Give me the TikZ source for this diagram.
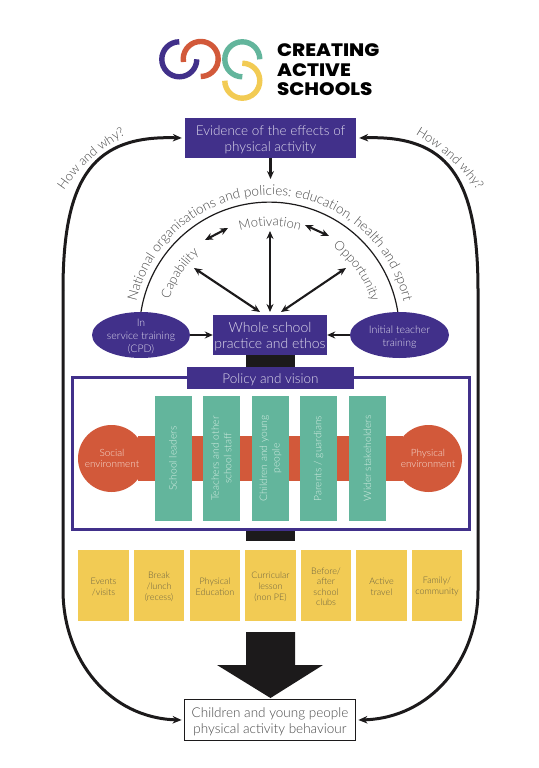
\documentclass[tikz,border=0pt]{standalone}
\usepackage{fontspec}
\setmainfont{Lato}[UprightFont=* Light,BoldFont=* Bold]
\newfontfamily\logofont{Poppins}[UprightFont=* ExtraBold,FakeStretch=1.1]
\usetikzlibrary{arrows.meta,calc,decorations.text,shapes.geometric}
\definecolor{cpurple}{HTML}{41308A}
\definecolor{cgreen}{HTML}{63B59C}
\definecolor{cred}{HTML}{D2593A}
\definecolor{cyellow}{HTML}{F2CB54}
\definecolor{cink}{HTML}{1C1A1B}
\definecolor{cgrey}{HTML}{4A4A4A}
\definecolor{conpurple}{HTML}{DDD9EC}
\definecolor{congreen}{HTML}{D5EDE3}
\definecolor{conred}{HTML}{F6DDD3}
\definecolor{conyellow}{HTML}{6A6242}
\newcommand{\lsz}[2]{\fontsize{#1}{#2}\selectfont}
\newcommand{\dn}[1]{\rule{0pt}{#1pt}}
\tikzset{
  x=1pt,y=1pt,
  purplebox/.style={fill=cpurple,draw=none,inner sep=0pt,align=center,text=conpurple},
  greenbox/.style={fill=cgreen,draw=none,inner sep=0pt,align=center,text=congreen,rotate=90,minimum width=125pt,minimum height=37pt,font=\lsz{10.3}{12.5}},
  yellowbox/.style={fill=cyellow,draw=none,inner sep=0pt,align=center,text=conyellow,minimum width=50.5pt,minimum height=71pt,font=\lsz{9}{10.6}},
  stem/.style={fill=cink,draw=none,inner sep=0pt,minimum width=49pt},
  redround/.style={circle,fill=cred,draw=none,inner sep=0pt,minimum size=67pt},
  logoline/.style={anchor=base west,inner sep=0pt,font={\logofont\fontsize{18}{20}\selectfont}},
  sidearrow/.style={draw=cink,line width=2.2pt,-{Stealth[length=8pt,width=7pt]}},
  twoway/.style={draw=cink,line width=2.1pt,{Stealth[length=8pt,width=7pt]}-{Stealth[length=8pt,width=7pt]}},
  bigloop/.style={draw=cink,line width=3pt,-{Stealth[length=9pt,width=7.5pt]}},
  logoarc/.style={line width=5.4pt,line cap=butt},
  curvetext/.style={decorate,decoration={text along path,text align=center,text={#1}}},
}
\begin{document}
\begin{tikzpicture}
\useasboundingbox (0,0) rectangle (538,-768);

% logo
\draw[logoarc,cpurple] (179.3,-41.8) arc[start angle=90,end angle=360,radius=17.5];
\draw[logoarc,cred] (183.5,-62) arc[start angle=190,end angle=-90,radius=17.5];
\draw[logoarc,cgreen] (259.8,-59.3) arc[start angle=0,end angle=270,radius=17.5];
\draw[logoarc,cyellow] (242.3,-63.2) arc[start angle=90,end angle=-180,radius=17.5];
\node[logoline] (logo1) at (277,-56.5) {CREATING};
\node[logoline] (logo2) at (277,-76) {ACTIVE};
\node[logoline] (logo3) at (277,-95) {SCHOOLS};

% main boxes
\node[purplebox,minimum width=171pt,minimum height=40pt,font=\lsz{13.5}{16}] (evidence) at (270.5,-138) {\dn{14}Evidence of the effects of\\physical activity};
\node[purplebox,minimum width=114pt,minimum height=40pt,font=\lsz{14}{16}] (whole) at (270,-335) {\dn{14}Whole school\\practice and ethos};
\node[purplebox,ellipse,minimum width=98pt,minimum height=46pt] (cpd) at (141,-335) {};
\node[text=conpurple,align=center,inner sep=0pt,font=\lsz{10.5}{13}] (cpdtext) at (141,-335) {\dn{11}In\\service training\\(CPD)};
\node[purplebox,ellipse,minimum width=99pt,minimum height=46pt] (itt) at (399.5,-335) {};
\node[text=conpurple,align=center,inner sep=0pt,font=\lsz{10.5}{13}] (itttext) at (399.5,-335) {\dn{11}Initial teacher\\training};

\node[stem,minimum height=13pt] (stemtop) at (270.5,-361) {};
\node[stem,minimum height=11pt] (stemlow) at (270.5,-535) {};

% policy frame
\node[draw=cpurple,fill=white,line width=3pt,minimum width=397pt,minimum height=152pt,inner sep=0pt] (frame) at (270.5,-453) {};
\node[purplebox,minimum width=167pt,minimum height=22pt,font=\lsz{13.5}{16}] (policy) at (270.5,-378) {\dn{14}Policy and vision};

% red bar and circles
\node[redround] (social) at (111.5,-458.5) {};
\node[redround] (physical) at (428.5,-458.5) {};
\fill[cred] ($(social.center)+(26,22.5)$) rectangle ($(physical.center)+(-26,-22.5)$);
\node[text=conred,align=center,inner sep=0pt,font=\lsz{10}{10.6}] (socialt) at (112,-458.5) {Social\\environment};
\node[text=conred,align=center,inner sep=0pt,font=\lsz{10}{10.6}] (physicalt) at (428,-458.5) {Physical\\environment};

% green boxes
\node[greenbox] (g1) at (173,-458.5) {School leaders};
\node[greenbox] (g2) at (221.5,-458.5) {Teachers and other\\school staff};
\node[greenbox] (g3) at (270.5,-458.5) {Children and young\\people};
\node[greenbox] (g4) at (318.5,-458.5) {Parents / guardians};
\node[greenbox] (g5) at (367.5,-458.5) {Wider stakeholders};

% yellow boxes
\node[yellowbox] (y1) at (103.5,-585.5) {\dn{9}Events\\/visits};
\node[yellowbox] (y2) at (159,-585.5) {\dn{9}Break\\/lunch\\(recess)};
\node[yellowbox] (y3) at (215,-585.5) {\dn{9}Physical\\Education};
\node[yellowbox] (y4) at (270.5,-585.5) {\dn{9}Curricular\\lesson\\(non PE)};
\node[yellowbox] (y5) at (326,-585.5) {\dn{9}Before/\\after\\school\\clubs};
\node[yellowbox] (y6) at (381.5,-585.5) {\dn{9}Active\\travel};
\node[yellowbox] (y7) at (437,-585.5) {\dn{9}Family/\\community};

% big arrow and outcome
\fill[cink] (246,-632) -- (295,-632) -- (295,-665) -- (323,-665) -- (270.5,-698) -- (217,-665) -- (246,-665) -- cycle;
\node[draw=cink,fill=white,line width=1.8pt,minimum width=171pt,minimum height=41pt,inner sep=0pt,align=center,text=cgrey,font=\lsz{13.5}{16}] (outcome) at (270,-720) {\dn{14}Children and young people\\physical activity behaviour};

% big loops
\coordinate (lside) at (63,-290);
\coordinate (rside) at (478,-290);
\coordinate (lsidelow) at (63,-590);
\coordinate (rsidelow) at (478,-590);
\draw[bigloop] (lside) .. controls (63,-175) and (95,-135) .. ([xshift=-3pt]evidence.west);
\draw[bigloop] (rside) .. controls (478,-175) and (446,-135) .. ([xshift=3pt]evidence.east);
\draw[bigloop] (lside) -- (lsidelow) .. controls (63,-660) and (110,-718) .. ([xshift=-2pt]outcome.west);
\draw[bigloop] (rside) -- (rsidelow) .. controls (478,-660) and (431,-718) .. ([xshift=2pt]outcome.east);

% inner arc
\coordinate (arcC) at (270,-332);
\draw[cink,line width=1.2pt] (cpd.north) arc[start angle=171,end angle=9,radius=130];

% arrows
\coordinate (evidenceEnd) at (270.5,-179);
\draw[sidearrow] (evidence.south) -- (evidenceEnd);
\draw[sidearrow] (cpd.east) -- (whole.west);
\draw[sidearrow] (itt.west) -- (whole.east);
\coordinate (capA) at (205,-240);
\coordinate (capB) at (228,-228);
\coordinate (oppA) at (305,-225);
\coordinate (oppB) at (329,-236);
\coordinate (motC) at (270,-231);
\coordinate (motD) at (270,-312);
\coordinate (capE) at (194,-268);
\coordinate (capF) at (260,-312);
\coordinate (oppE) at (346,-268);
\coordinate (oppF) at (281,-312);
\draw[twoway] (capA) -- (capB);
\draw[twoway] (oppA) -- (oppB);
\draw[twoway] (motC) -- (motD);
\draw[twoway] (capE) -- (capF);
\draw[twoway] (oppE) -- (oppF);

% curved text
\path[curvetext={|\fontsize{13.6}{15}\selectfont\color{cgrey}|National organisations and policies: education, health and sport}]
  ($(arcC)+(172:137)$) arc[start angle=172,end angle=8,radius=137];
\path[curvetext={|\fontsize{13}{15}\selectfont\color{cgrey}|Motivation}]
  ($(arcC)+(125:106)$) arc[start angle=125,end angle=55,radius=106];
\path[curvetext={|\fontsize{13}{15}\selectfont\color{cgrey}|Capability}]
  ($(arcC)+(172:106)$) arc[start angle=172,end angle=122,radius=106];
\path[curvetext={|\fontsize{13}{15}\selectfont\color{cgrey}|Opportunity}]
  ($(arcC)+(62:106)$) arc[start angle=62,end angle=8,radius=106];
\path[curvetext={|\fontsize{13}{15}\selectfont\color{cgrey}|How and why?}]
  (61,-195) .. controls (75,-172) and (99,-149) .. (130,-132);
\path[curvetext={|\fontsize{13}{15}\selectfont\color{cgrey}|How and why?}]
  (411,-132) .. controls (442,-149) and (466,-172) .. (480,-195);
\end{tikzpicture}
\end{document}
